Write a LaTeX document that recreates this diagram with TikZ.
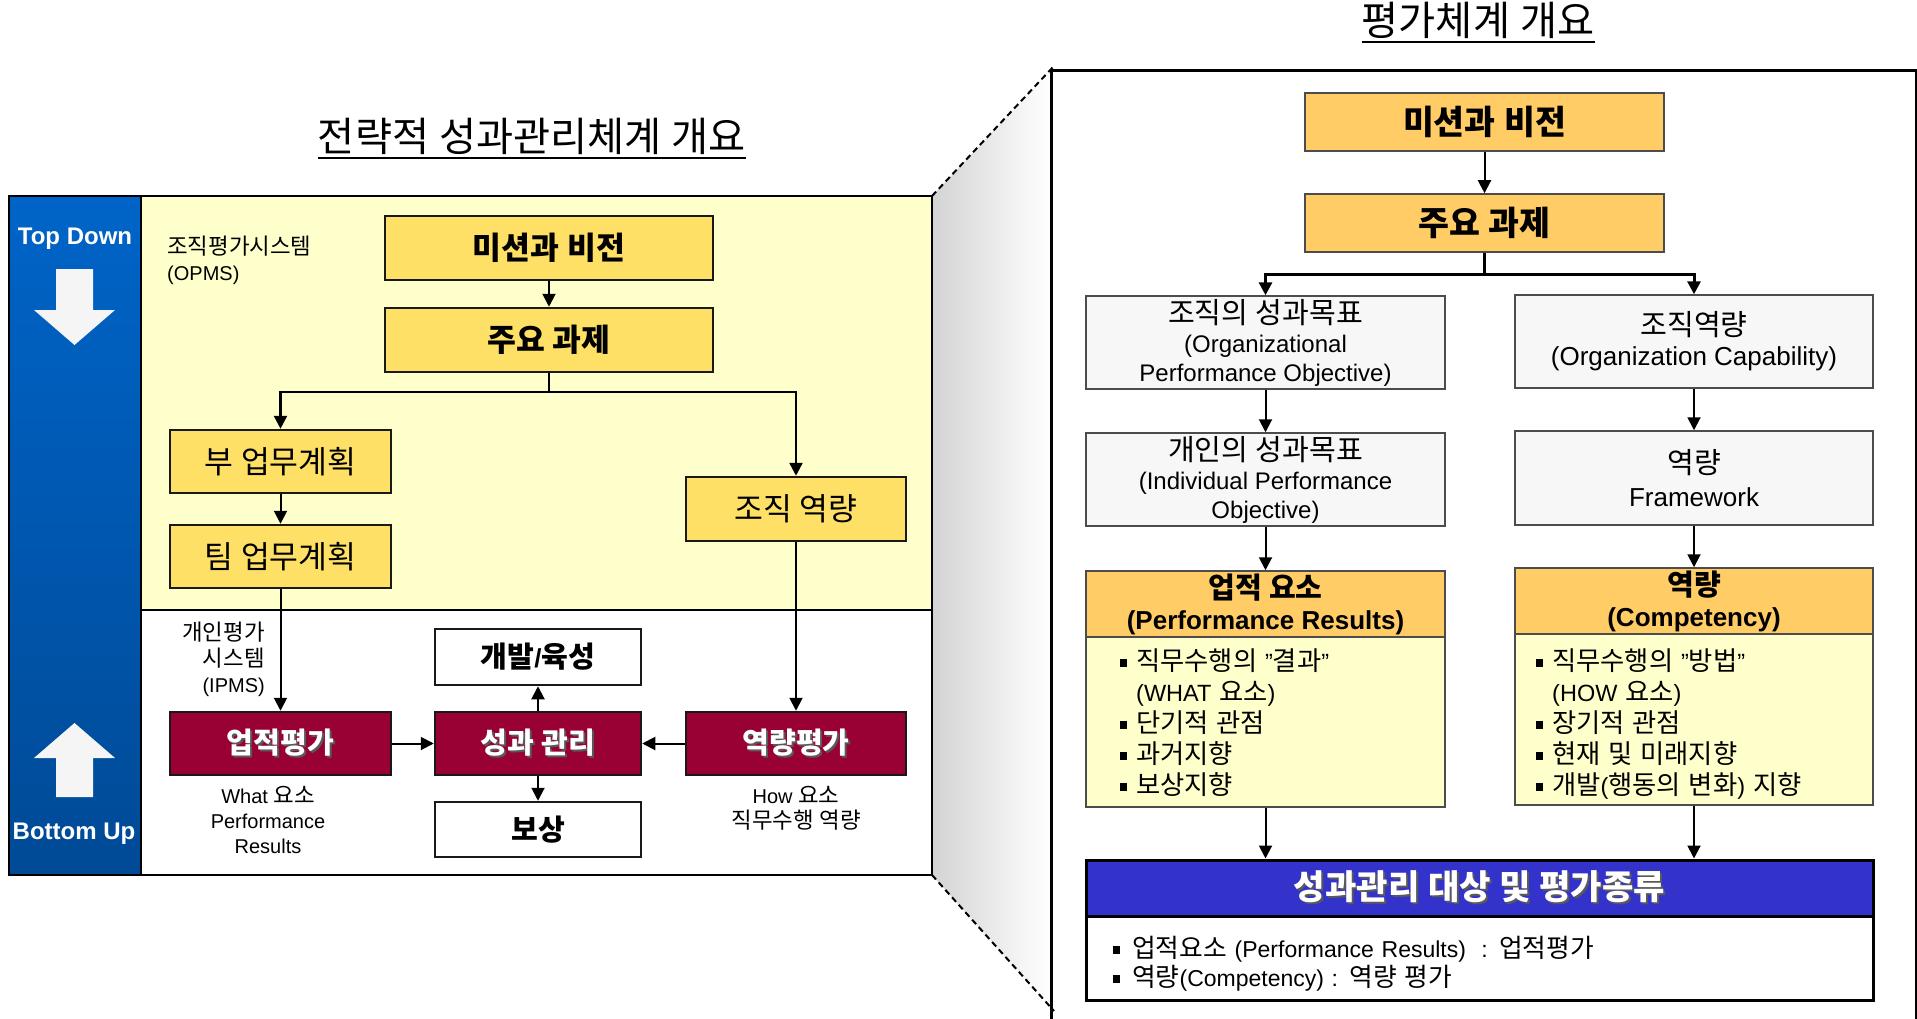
\documentclass[tikz,border=0pt]{standalone}
\usepackage{fontspec}
\setmainfont{Liberation Sans}
\newfontfamily\krfam[Scale=1.12]{Noto Sans CJK KR}
\usetikzlibrary{arrows.meta}
\XeTeXinterchartokenstate=1
\newXeTeXintercharclass\krclass
\newcount\kcnt
\kcnt="AC00
\loop
  \XeTeXcharclass\kcnt=\krclass
  \advance\kcnt by 1
\ifnum\kcnt<"D7A4 \repeat
\XeTeXcharclass"201C=0
\XeTeXcharclass"201D=0
\XeTeXinterchartoks 0 \krclass = {\krfam}
\XeTeXinterchartoks 4095 \krclass = {\krfam}
\XeTeXinterchartoks \krclass 0 = {\rmfamily}
\XeTeXinterchartoks \krclass 4095 = {\rmfamily}
\newcommand\fsz[2]{\fontsize{#1}{#2}\selectfont}
\newcommand\kbig[1]{{\fsz{26}{29}#1}}
\newcommand\shd[1]{\leavevmode\rlap{\hspace{2pt}\raisebox{-2pt}{\textcolor{black!65}{#1}}}#1}
\newcommand\bul{\makebox[16pt][l]{\rule[3.5pt]{7pt}{8pt}}}
\definecolor{lyel}{HTML}{FFFFCC}
\definecolor{ybox}{HTML}{FFE066}
\definecolor{mrn}{HTML}{990033}
\definecolor{obox}{HTML}{FFCC66}
\definecolor{gbox}{HTML}{F7F7F7}
\definecolor{bbox}{HTML}{3333CC}
\definecolor{bltop}{HTML}{0064C8}
\definecolor{blbot}{HTML}{004A96}
\begin{document}
\begin{tikzpicture}[x=1pt,y=-1pt,
  >={Triangle[length=13pt,width=13pt]},
  arr/.style={->, line width=2pt},
  ybx/.style={draw=black!90, line width=2.5pt, fill=ybox, inner sep=0pt, align=center},
  wbx/.style={draw=black!90, line width=2.5pt, fill=white, inner sep=0pt, align=center, font=\bfseries\fsz{26}{30}},
  mbx/.style={draw=black!90, line width=2.5pt, fill=mrn, text=white, inner sep=0pt, align=center, font=\bfseries\fsz{26}{30}},
  gbx/.style={draw=black!70, line width=1.5pt, fill=gbox, inner sep=0pt, align=center, font=\fsz{24}{29}},
  obx/.style={draw=black!70, line width=1.5pt, fill=obox, inner sep=0pt, align=center},
  lbx/.style={draw=black!70, line width=1.5pt, fill=lyel, inner sep=0pt},
  lbl/.style={inner sep=0pt, font=\fsz{20}{26}}
]
\useasboundingbox (0,0) rectangle (1917,1019);

% ---------- connector trapezoid ----------
\shade[left color=black!17, right color=white] (932,196) -- (1051,70) -- (1051,1008) -- (932,875) -- cycle;
\draw[line width=2pt, dash pattern=on 6pt off 4pt] (932,196) -- (1054,66);
\draw[line width=2pt, dash pattern=on 6pt off 4pt] (932,875) -- (1054,1011);

% ---------- left panel ----------
\node[anchor=base, inner sep=0pt, font=\fsz{36}{44}] (lt) at (532,152) {전략적 성과관리체계 개요};
\draw[line width=2pt] ([yshift=-6pt]lt.base west) -- ([yshift=-6pt]lt.base east);

\shade[top color=bltop, bottom color=blbot] (9,196) rectangle (141,875);
\fill[lyel] (141,196) rectangle (932,610);
\fill[white] (141,610) rectangle (932,875);
\draw[line width=2.5pt] (141,196) -- (141,875);
\draw[line width=2.5pt] (141,610) -- (932,610);
\draw[line width=2.5pt] (9,196) rectangle (932,875);

\node[inner sep=0pt, text=white, font=\bfseries\fsz{24}{28}] (td) at (75,239) {Top Down};
\node[inner sep=0pt, text=white, font=\bfseries\fsz{24}{28}] (bup) at (74,834) {Bottom Up};
\fill[white!96!black] (56,269) -- (93,269) -- (93,310) -- (115,310) -- (74.5,345) -- (34,310) -- (56,310) -- cycle;
\fill[white!96!black] (56,797) -- (93,797) -- (93,758) -- (115,758) -- (74.5,723) -- (34,758) -- (56,758) -- cycle;

\node[lbl, anchor=north west, align=left] (opms) at (167,236) {조직평가시스템\\(OPMS)};
\node[lbl, anchor=north east, align=right] (ipms) at (265,622) {개인평가\\시스템\\(IPMS)};
\node[lbl, anchor=north, align=center, font=\fsz{20}{25}] (what) at (268,786) {What 요소\\Performance\\Results};
\node[lbl, anchor=north, align=center, font=\fsz{20}{25}] (how) at (796,786) {How 요소\\직무수행 역량};

\node[ybx, font=\bfseries\fsz{28}{32}, minimum width=328pt, minimum height=64pt] (mv1) at (549,248) {미션과 비전};
\node[ybx, font=\bfseries\fsz{28}{32}, minimum width=328pt, minimum height=64pt] (kt1) at (549,340) {주요 과제};
\node[ybx, font=\fsz{28}{32}, minimum width=221pt, minimum height=63pt] (bu) at (280.5,461.5) {부 업무계획};
\node[ybx, font=\fsz{28}{32}, minimum width=221pt, minimum height=63pt] (tim) at (280.5,556.5) {팀 업무계획};
\node[ybx, font=\fsz{28}{32}, minimum width=220pt, minimum height=64pt] (org) at (796,509) {조직 역량};
\node[wbx, minimum width=206pt, minimum height=56pt] (dev) at (538,657) {개발/육성};
\node[mbx, minimum width=221pt, minimum height=63pt] (ev1) at (280.5,743.5) {\shd{업적평가}};
\node[mbx, minimum width=206pt, minimum height=63pt] (pm) at (538,743.5) {\shd{성과 관리}};
\node[mbx, minimum width=220pt, minimum height=63pt] (ev2) at (796,743.5) {\shd{역량평가}};
\node[wbx, minimum width=206pt, minimum height=55pt] (cmp) at (538,829.5) {보상};

\coordinate (lb) at (549,392);
\draw[arr] (mv1) -- (kt1);
\draw[arr, line width=2.5pt] (kt1.south) -- (lb) -| (bu.north);
\draw[arr, line width=2.5pt] (lb) -| (org.north);
\draw[arr] (bu) -- (tim);
\draw[arr] (tim) -- (ev1);
\draw[arr] (org) -- (ev2);
\draw[arr] (ev1) -- (pm);
\draw[arr] (ev2) -- (pm);
\draw[arr] (pm) -- (dev);
\draw[arr] (pm) -- (cmp);

% ---------- right panel ----------
\node[anchor=base, inner sep=0pt, font=\fsz{36}{44}] (rt) at (1478,36) {평가체계 개요};
\draw[line width=2pt] ([yshift=-6pt]rt.base west) -- ([yshift=-6pt]rt.base east);
\draw[line width=3pt] (1051,1030) -- (1051,71) -- (1916,71) -- (1916,1030);

\node[obx, font=\bfseries\fsz{30}{36}, minimum width=359pt, minimum height=58pt] (mv2) at (1484.5,122) {미션과 비전};
\node[obx, font=\bfseries\fsz{30}{36}, minimum width=359pt, minimum height=58pt] (kt2) at (1484.5,223) {주요 과제};
\node[gbx, minimum width=359pt, minimum height=93pt] (og) at (1265.5,342.5) {\kbig{조직의 성과목표}\\(Organizational\\Performance Objective)};
\node[gbx, font=\fsz{26}{30}, minimum width=358pt, minimum height=93pt] (oc) at (1694,341.5) {\kbig{조직역량}\\(Organization Capability)};
\node[gbx, minimum width=359pt, minimum height=93pt] (ig) at (1265.5,479.5) {\kbig{개인의 성과목표}\\(Individual Performance\\Objective)};
\node[gbx, font=\fsz{26}{33}, minimum width=358pt, minimum height=94pt] (fw) at (1694,478) {\kbig{역량}\\Framework};

\node[lbx, minimum width=359pt, minimum height=170pt] (prb) at (1265.5,722) {};
\node[obx, font=\bfseries\fsz{26}{31}, minimum width=359pt, minimum height=66pt] (prh) at (1265.5,604) {업적 요소\\(Performance Results)};
\node[lbx, minimum width=358pt, minimum height=171pt] (cpb) at (1694,719.5) {};
\node[obx, font=\bfseries\fsz{26}{31}, minimum width=358pt, minimum height=66pt] (cph) at (1694,601) {역량\\(Competency)};

\node[anchor=north west, inner sep=0pt, text width=330pt, align=left, font=\fsz{23.5}{31}] (prl) at (1120,649)
  {\bul 직무수행의 ”결과”\\\hspace*{16pt}(WHAT 요소)\\\bul 단기적 관점\\\bul 과거지향\\\bul 보상지향};
\node[anchor=north west, inner sep=0pt, text width=335pt, align=left, font=\fsz{23.5}{31}] (cpl) at (1536,649)
  {\bul 직무수행의 ”방법”\\\hspace*{16pt}(HOW 요소)\\\bul 장기적 관점\\\bul 현재 및 미래지향\\\bul 개발(행동의 변화) 지향};

\node[draw=black, line width=3pt, fill=bbox, text=white, inner sep=0pt, font=\bfseries\fsz{30.5}{36}, minimum width=787pt, minimum height=56pt] (bl) at (1479.5,888) {\shd{성과관리 대상 및 평가종류}};
\node[draw=black, line width=3pt, fill=white, inner sep=0pt, minimum width=787pt, minimum height=84pt] (bw) at (1479.5,958) {};
\node[anchor=north west, inner sep=0pt, text width=700pt, align=left, font=\fsz{23}{29}] (bwl) at (1113,936)
  {\makebox[19pt][l]{\rule[3.5pt]{7pt}{8pt}}업적요소 (Performance Results) \ : 업적평가\\\makebox[19pt][l]{\rule[3.5pt]{7pt}{8pt}}역량(Competency) : 역량 평가};

\coordinate (rb) at (1484.5,274);
\draw[arr] (mv2) -- (kt2);
\draw[arr, line width=3pt] (kt2.south) -- (rb) -| (og.north);
\draw[arr, line width=3pt] (rb) -| (oc.north);
\draw[arr] (og) -- (ig);
\draw[arr] (oc) -- (fw);
\draw[arr] (ig) -- (prh);
\draw[arr] (fw) -- (cph);
\draw[arr] (prb.south) -- (prb.south |- bl.north);
\draw[arr] (cpb.south) -- (cpb.south |- bl.north);
\end{tikzpicture}
\end{document}
